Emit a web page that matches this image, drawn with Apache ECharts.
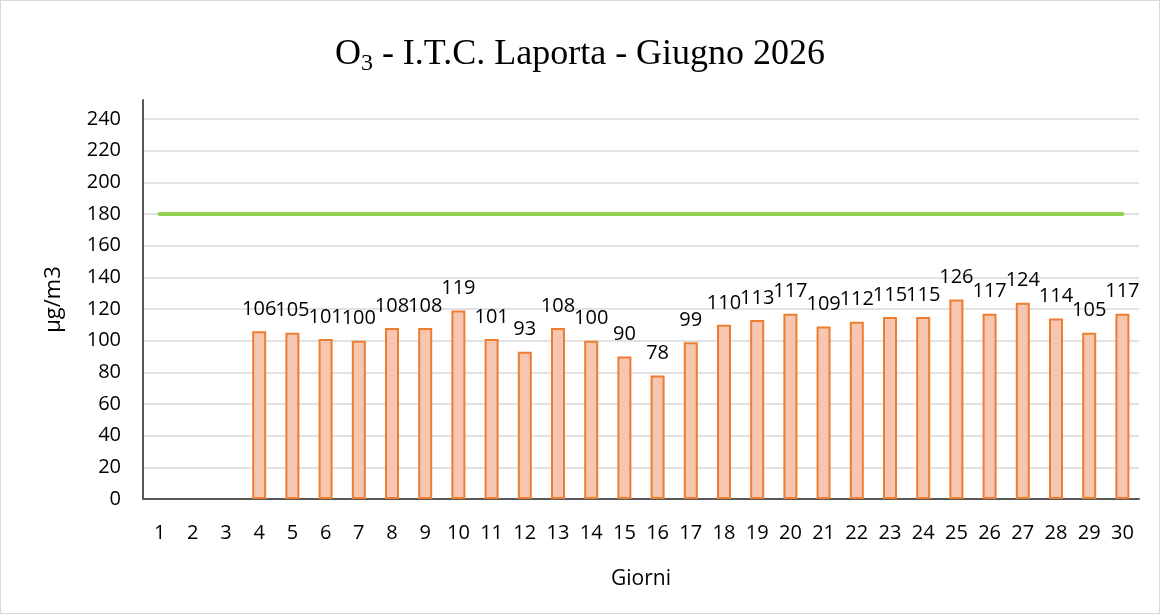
<!DOCTYPE html>
<html>
<head>
<meta charset="utf-8">
<script src="https://cdn.jsdelivr.net/npm/echarts@6/dist/echarts.min.js"></script>
<style>
  html, body { margin: 0; padding: 0; background: #fff; }
  #chart { width: 1160px; height: 614px; box-sizing: border-box; border: 1px solid #d9d9d9; }
</style>
</head>
<body>
<div id="chart"></div>
<script>
  // giorni del mese
  const days = [];
  for (let d = 1; d <= 30; d++) days.push(String(d));

  // valori O3 (i primi tre giorni senza dato)
  const o3Values = [null, null, null, 106, 105, 101, 100, 108, 108, 119, 101, 93, 108, 100, 90,
    78, 99, 110, 113, 117, 109, 112, 115, 115, 126, 117, 124, 114, 105, 117];

  // soglia di informazione
  const threshold = days.map(() => 180);

  const yTicks = { min: 0, max: 252, step: 20 };

  const chart = echarts.init(document.getElementById('chart'));

  const option = {
    animation: false,
    title: {
      text: '{o|O}{sub|3}{o| - I.T.C. Laporta - Giugno 2026}',
      left: 'center',
      top: 28,
      textStyle: {
        fontWeight: 'normal',
        rich: {
          o: { fontFamily: 'Liberation Serif', fontSize: 36, fontWeight: 'normal', color: '#000' },
          sub: { fontFamily: 'Liberation Serif', fontSize: 24, fontWeight: 'normal', color: '#000', padding: [18, 0, 0, 0] }
        }
      }
    },
    grid: { left: 142, right: 20, top: 99, bottom: 114 },
    xAxis: {
      type: 'category',
      data: days,
      name: 'Giorni',
      nameLocation: 'middle',
      nameGap: 70,
      nameTextStyle: { fontFamily: 'Open Sans', fontSize: 21, color: '#000' },
      axisLine: { lineStyle: { color: '#595959', width: 2 } },
      axisTick: { show: false },
      axisLabel: { fontFamily: 'Open Sans', fontSize: 20, color: '#000', margin: 24, interval: 0 }
    },
    yAxis: {
      type: 'value',
      min: yTicks.min,
      max: yTicks.max,
      interval: yTicks.step,
      name: 'µg/m3',
      nameLocation: 'middle',
      nameGap: 78,
      nameRotate: 90,
      nameTextStyle: { fontFamily: 'Open Sans', fontSize: 22, color: '#000' },
      axisLine: { show: true, lineStyle: { color: '#595959', width: 2 } },
      axisTick: { show: false },
      axisLabel: { fontFamily: 'Open Sans', fontSize: 20, color: '#000', margin: 22, showMaxLabel: false },
      splitLine: { showMaxLine: false, lineStyle: { color: '#d9d9d9', width: 1.5 } }
    },
    series: [
      {
        name: 'O3',
        type: 'bar',
        data: o3Values,
        barWidth: 14,
        itemStyle: { color: '#f6c6b1', borderColor: '#ed7d31', borderWidth: 2 },
        label: {
          show: true,
          position: 'top',
          distance: 12,
          fontFamily: 'Open Sans',
          fontSize: 20,
          color: '#000'
        }
      },
      {
        name: 'Soglia',
        type: 'line',
        data: threshold,
        symbol: 'none',
        lineStyle: { color: '#92d050', width: 4, cap: 'round' },
        z: 1
      }
    ]
  };

  chart.setOption(option);
</script>
</body>
</html>
